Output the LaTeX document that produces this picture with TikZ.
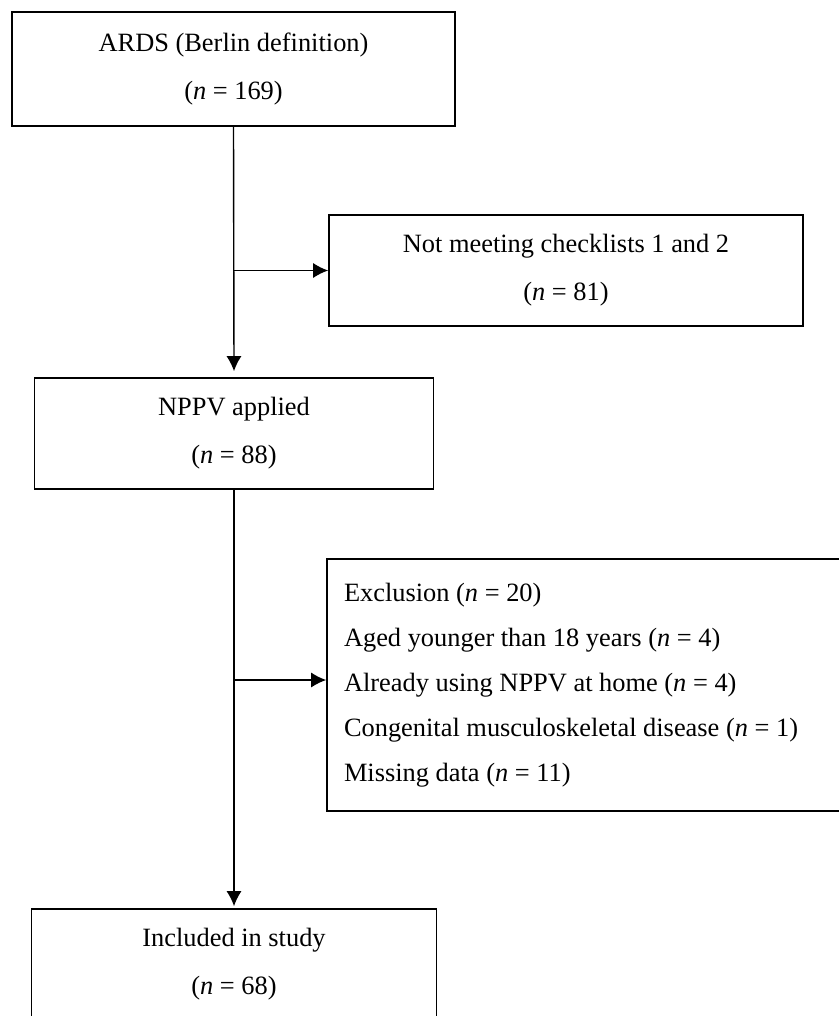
\documentclass[tikz,border=0pt]{standalone}
\usepackage{fontspec}
\setmainfont{Liberation Serif}
\usetikzlibrary{arrows.meta}
\tikzset{
  flowbox/.style={draw, line width=0.8pt, align=center, inner sep=0pt,
    font={\fontsize{13.2}{24}\selectfont}},
  flowarrow/.style={line width=0.7pt, -{Latex[length=7.5pt,width=7.5pt]}}
}
\begin{document}
\begin{tikzpicture}[x=0.5pt,y=-0.5pt]
    \useasboundingbox (0,0) rectangle (839,1016);

    \node[flowbox, minimum width=221.5pt, minimum height=57pt] (ards) at (233.5,69) {ARDS (Berlin definition)\\(\textit{n} = 169)};
    \node[flowbox, minimum width=237pt, minimum height=55.5pt] (notmeet) at (566,270.5) {Not meeting checklists 1 and 2\\(\textit{n} = 81)};
    \node[flowbox, minimum width=199.5pt, minimum height=55.5pt] (nppv) at (234,433.5) {NPPV applied\\(\textit{n} = 88)};
    \node[flowbox, align=flush left, text width=240.5pt, inner xsep=8.5pt, minimum height=126pt,
        font={\fontsize{13.2}{22.5}\selectfont}] (excl) at (584.5,685) {Exclusion (\textit{n} = 20)\\Aged younger than 18 years (\textit{n} = 4)\\Already using NPPV at home (\textit{n} = 4)\\Congenital musculoskeletal disease (\textit{n} = 1)\\Missing data (\textit{n} = 11)};
    \node[flowbox, minimum width=202.5pt, minimum height=55.5pt] (incl) at (234,964.5) {Included in study\\(\textit{n} = 68)};

    \coordinate (split1) at (ards.south |- notmeet.west);
    \coordinate (excltip) at ([yshift=2.5pt]excl.west);
    \coordinate (split2) at (nppv.south |- excltip);

    \draw[flowarrow] (ards.south) -- ([yshift=3pt]nppv.north);
    \draw[flowarrow] (split1) -- (notmeet.west);
    \draw[flowarrow] (nppv.south) -- ([yshift=1pt]incl.north);
    \draw[flowarrow] (split2) -- (excltip);
\end{tikzpicture}
\end{document}
